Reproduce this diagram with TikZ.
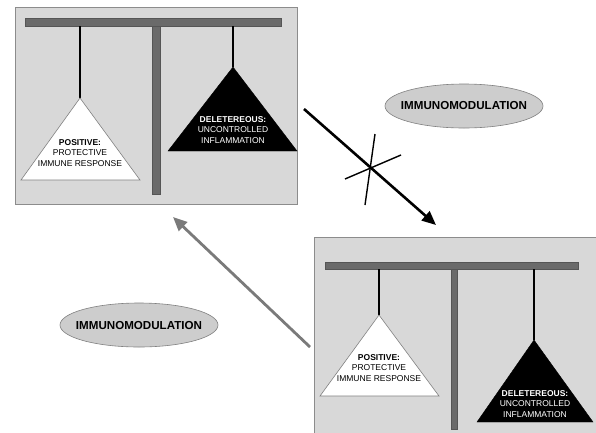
\documentclass[tikz,border=0pt]{standalone}
\usepackage{fontspec}
\setmainfont{Liberation Sans}
\usetikzlibrary{arrows.meta,shapes.geometric}
\definecolor{panelfill}{HTML}{D8D8D8}
\definecolor{panelline}{HTML}{8C8C8C}
\definecolor{bargray}{HTML}{6A6A6A}
\definecolor{ellfill}{HTML}{CDCDCD}
\definecolor{arrgray}{HTML}{7A7A7A}
\tikzset{
  panel/.style={fill=panelfill,draw=panelline,line width=1pt},
  beam/.style={fill=bargray,draw=bargray!80!black,line width=0.4pt},
  stringline/.style={line width=1.6pt,black},
  whitetri/.style={fill=white,draw=gray,line width=0.6pt},
  blacktri/.style={fill=black,draw=black},
  lbl/.style={align=center,font=\fontsize{8.5}{10.6}\selectfont,inner sep=0pt},
  ellbox/.style={ellipse,fill=ellfill,draw=gray,line width=0.6pt,minimum width=158pt,minimum height=44pt,inner sep=0pt},
  elltext/.style={inner sep=0pt,font=\bfseries\fontsize{11.6}{13}\selectfont},
  blackarrow/.style={line width=2.6pt,black,-{Triangle[length=14pt,width=12pt]}},
  grayarrow/.style={line width=2.8pt,arrgray,-{Triangle[length=14pt,width=12pt]}},
  crossline/.style={line width=1.4pt,black}
}
\begin{document}
\begin{tikzpicture}[x=1pt,y=-1pt]
\useasboundingbox (0,0) rectangle (596,432);
\fill[white] (0,0) rectangle (596,432);
% ---- panel 1
\draw[panel] (15,7) rectangle (297,204);
\draw[beam] (25,18) rectangle (281,26);
\draw[beam] (152,26) rectangle (160,194);
\draw[stringline] (80,26) -- (80,98);
\draw[whitetri] (80,98) -- (140,180) -- (21,180) -- cycle;
\draw[stringline] (233,26) -- (233,67);
\draw[blacktri] (233,67) -- (297,151) -- (168,151) -- cycle;
\node[lbl] (pos1) at (80,153) {\textbf{POSITIVE:}\\PROTECTIVE\\IMMUNE RESPONSE};
\node[lbl,white] (del1) at (233,130) {\textbf{DELETEREOUS:}\\UNCONTROLLED\\INFLAMMATION};
% ---- panel 2
\begin{scope}
\clip (0,0) rectangle (596,432);
\draw[panel] (314,237) rectangle (600,440);
\draw[beam] (325,262) rectangle (578,269);
\draw[beam] (451,269) rectangle (457,429);
\draw[stringline] (379,269) -- (379,315);
\draw[whitetri] (379,315) -- (439,396) -- (320,396) -- cycle;
\draw[stringline] (534,269) -- (534,340);
\draw[blacktri] (534,340) -- (593,422) -- (477,422) -- cycle;
\end{scope}
\node[lbl] (pos2) at (379,368) {\textbf{POSITIVE:}\\PROTECTIVE\\IMMUNE RESPONSE};
\node[lbl,white] (del2) at (535,404) {\textbf{DELETEREOUS:}\\UNCONTROLLED\\INFLAMMATION};
% ---- ellipses
\node[ellbox] (imm1) at (464,106) {};
\node[elltext] (imm1t) at (imm1.center) {IMMUNOMODULATION};
\node[ellbox] (imm2) at (139,325) {};
\node[elltext] (imm2t) at (imm2.center) {IMMUNOMODULATION};
% ---- arrows
\coordinate (a1s) at (304,109);
\coordinate (a1e) at (436,225);
\draw[blackarrow] (a1s) -- (a1e);
\coordinate (c1a) at (375,134);
\coordinate (c1b) at (365,205);
\coordinate (c2a) at (345,179);
\coordinate (c2b) at (401,155);
\draw[crossline] (c1a) -- (c1b);
\draw[crossline] (c2a) -- (c2b);
\coordinate (a2s) at (310,347);
\coordinate (a2e) at (173,217);
\draw[grayarrow] (a2s) -- (a2e);
\end{tikzpicture}
\end{document}
